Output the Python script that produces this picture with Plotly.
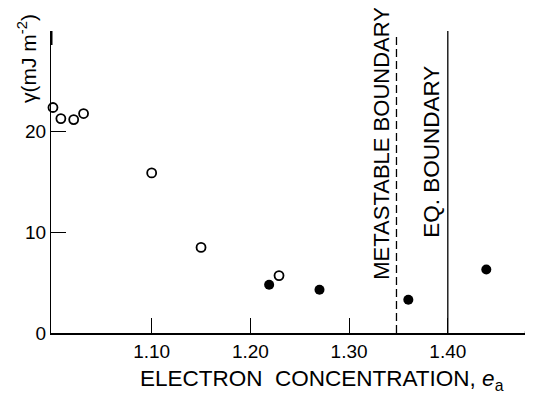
import plotly.graph_objects as go

# Data
open_e = [1.000, 1.008, 1.021, 1.031, 1.100, 1.150, 1.229]
open_gamma = [22.4, 21.3, 21.2, 21.8, 15.9, 8.5, 5.7]
filled_e = [1.219, 1.270, 1.360, 1.439]
filled_gamma = [4.8, 4.3, 3.3, 6.3]
metastable_boundary = 1.348
eq_boundary = 1.400
x_ticks = [1.10, 1.20, 1.30, 1.40]
x_ticktext = ["1.10", "1.20", "1.30", "1.40"]
y_ticks = [0, 10, 20]
y_ticktext = ["0", "10", "20"]

FONT = "Liberation Sans, Arial, sans-serif"
NARROW = "Liberation Sans Narrow, Arial Narrow, Liberation Sans, sans-serif"

# the page body has an 8px margin, so the figure is drawn 8px smaller
W, H = 525, 386
L, R, T, B = 43, 0, 23, 61
PW, PH = W - L - R, H - T - B


def px(x):  # reference pixel -> paper x
    return (x - 8 - L) / PW


def py(y):  # reference pixel -> paper y
    return (H - B - (y - 8)) / PH


fig = go.Figure()
fig.add_trace(go.Scatter(x=open_e, y=open_gamma, mode="markers",
                         marker=dict(symbol="circle-open", size=9, color="black",
                                     line=dict(width=1.8, color="black")),
                         showlegend=False, cliponaxis=False))
fig.add_trace(go.Scatter(x=filled_e, y=filled_gamma, mode="markers",
                         marker=dict(symbol="circle", size=10, color="black"),
                         showlegend=False, cliponaxis=False))

xr = [0.998, 1.4863]
yr = [0, 30]

fig.add_shape(type="line", x0=metastable_boundary, x1=metastable_boundary, y0=0, y1=29.4,
              line=dict(color="black", width=1.3, dash="8px,4px"))
fig.add_shape(type="line", x0=eq_boundary, x1=eq_boundary, y0=0, y1=30,
              line=dict(color="black", width=1.3))
# axis arrow tips
fig.add_shape(type="line", x0=xr[0], x1=xr[0], y0=28.6, y1=30,
              line=dict(color="black", width=3))
fig.add_shape(type="line", x0=1.478, x1=xr[1], y0=0, y1=0,
              line=dict(color="black", width=3.5))

fig.add_annotation(x=1.3333, y=18.9, text="METASTABLE BOUNDARY", textangle=-90,
                   showarrow=False, xanchor="center", yanchor="middle",
                   font=dict(family=FONT, size=22, color="black"))
fig.add_annotation(x=1.384, y=18.0, text="EQ. BOUNDARY", textangle=-90,
                   showarrow=False, xanchor="center", yanchor="middle",
                   font=dict(family=FONT, size=22.5, color="black"))

fig.add_annotation(xref="paper", yref="paper", x=px(322), y=py(380),
                   xanchor="center", yanchor="middle",
                   text="ELECTRON  CONCENTRATION, <i>e</i><sub>a</sub>", showarrow=False,
                   font=dict(family=FONT, size=22.5, color="black"))
fig.add_annotation(xref="paper", yref="paper", x=px(27), y=py(59),
                   xanchor="center", yanchor="middle",
                   text="γ(mJ m<sup>-2</sup>)", textangle=-90, showarrow=False,
                   font=dict(family=FONT, size=21, color="black"))

fig.update_xaxes(range=xr, showgrid=False, zeroline=False, showline=True,
                 linecolor="black", linewidth=2, ticks="inside", ticklen=15,
                 tickwidth=1.2, tickcolor="black", tickvals=x_ticks, ticktext=x_ticktext,
                 tickfont=dict(family=NARROW, size=19, color="black"))
fig.update_yaxes(range=yr, showgrid=False, zeroline=False, showline=True,
                 linecolor="black", linewidth=1, ticks="inside", ticklen=15,
                 tickwidth=1.2, tickcolor="black", tickvals=y_ticks, ticktext=y_ticktext,
                 tickfont=dict(family=FONT, size=19, color="black"))

fig.update_layout(width=W, height=H, margin=dict(l=L, r=R, t=T, b=B),
                  plot_bgcolor="white", paper_bgcolor="white")

fig.write_html("out.html")
